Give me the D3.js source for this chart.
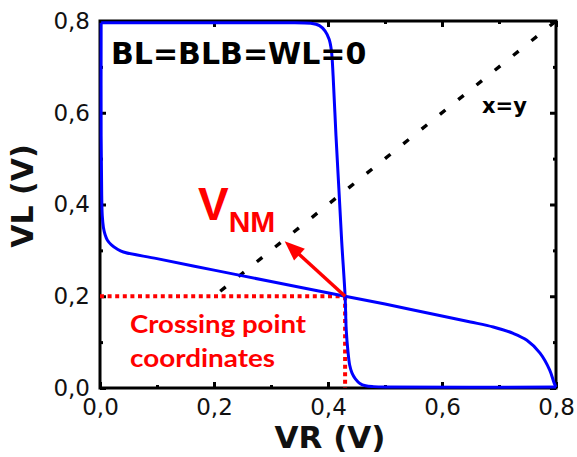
<!DOCTYPE html>
<html><head><meta charset="utf-8">
<script src="https://cdn.jsdelivr.net/npm/d3@7"></script>
<style>body{margin:0;background:#fff}svg{display:block}</style>
</head><body>
<svg id="chart" width="577" height="457"></svg>
<script>
// ---- data ----
const majorTicks = [0, 0.2, 0.4, 0.6, 0.8];
const minorTicks = [0.1, 0.3, 0.5, 0.7];
// curve 1: VL as a function of VR
const curve1VR = [0.002, 0.002, 0.003, 0.004, 0.006, 0.009, 0.013, 0.02, 0.03, 0.041, 0.1, 0.2, 0.3, 0.43, 0.5, 0.6, 0.65, 0.69, 0.725, 0.749, 0.772, 0.789, 0.797, 0.8];
const curve1VL = [0.796, 0.55, 0.42, 0.375, 0.35, 0.334, 0.322, 0.312, 0.303, 0.2965, 0.282, 0.257, 0.232, 0.2, 0.183, 0.157, 0.144, 0.133, 0.119, 0.104, 0.076, 0.039, 0.01, 0.002];
// curve 2: VR as a function of VL
const curve2VR = [0.002, 0.3, 0.37, 0.385, 0.395, 0.402, 0.406, 0.409, 0.414, 0.419, 0.424, 0.43, 0.432, 0.435, 0.438, 0.442, 0.448, 0.456, 0.466, 0.48, 0.5, 0.8];
const curve2VL = [0.796, 0.796, 0.795, 0.79, 0.778, 0.76, 0.735, 0.68, 0.55, 0.436, 0.32, 0.2, 0.126, 0.08, 0.05, 0.033, 0.02, 0.01, 0.005, 0.003, 0.002, 0.002];
const diagonal = [0.2, 0.8];
const crossing = {vr: 0.43, vl: 0.2};
const arrowTip = {vr: 0.324, vl: 0.32};

// ---- layout ----
const svg = d3.select("#chart");
const x = d3.scaleLinear().domain([0, 0.8]).range([100, 556]);
const y = d3.scaleLinear().domain([0, 0.8]).range([388, 21]);
const fmt = v => d3.format(".1f")(v).replace(".", ",");
const tickFont = "'DejaVu Sans', sans-serif";
const boldFont = "'DejaVu Sans', sans-serif";

// axes
function styleAxis(g) {
  g.select(".domain").remove();
  g.selectAll(".tick line").attr("stroke", "#000").attr("stroke-width", 3);
  g.selectAll("text").attr("font-family", tickFont).attr("font-size", 23).attr("fill", "#111");
}
svg.append("g").attr("transform", "translate(0,388)")
  .call(d3.axisBottom(x).tickValues(majorTicks).tickSize(-6).tickPadding(11).tickFormat(fmt)).call(styleAxis);
svg.append("g").attr("transform", "translate(0,388)")
  .call(d3.axisBottom(x).tickValues(minorTicks).tickSize(-3).tickFormat("")).call(styleAxis);
svg.append("g").attr("transform", "translate(100,0)")
  .call(d3.axisLeft(y).tickValues(majorTicks).tickSize(-6).tickPadding(10).tickFormat(fmt)).call(styleAxis);
svg.append("g").attr("transform", "translate(100,0)")
  .call(d3.axisLeft(y).tickValues(minorTicks).tickSize(-3).tickFormat("")).call(styleAxis);
svg.append("g").attr("transform", "translate(0,21)")
  .call(d3.axisTop(x).tickValues(majorTicks).tickSize(-6).tickFormat("")).call(styleAxis);
svg.append("g").attr("transform", "translate(0,21)")
  .call(d3.axisTop(x).tickValues(minorTicks).tickSize(-3).tickFormat("")).call(styleAxis);
svg.append("g").attr("transform", "translate(556,0)")
  .call(d3.axisRight(y).tickValues(majorTicks).tickSize(-6).tickFormat("")).call(styleAxis);
svg.append("g").attr("transform", "translate(556,0)")
  .call(d3.axisRight(y).tickValues(minorTicks).tickSize(-3).tickFormat("")).call(styleAxis);

// frame
svg.append("rect").attr("x", x(0)).attr("y", y(0.8))
  .attr("width", x(0.8) - x(0)).attr("height", y(0) - y(0.8))
  .attr("fill", "none").attr("stroke", "#000").attr("stroke-width", 3);

// diagonal x=y
svg.append("line")
  .attr("x1", x(diagonal[0])).attr("y1", y(diagonal[0]))
  .attr("x2", x(diagonal[1])).attr("y2", y(diagonal[1]))
  .attr("stroke", "#000").attr("stroke-width", 3.4).attr("stroke-dasharray", "7,16.5")
  .attr("stroke-dashoffset", -8);

// red dotted crossing lines
svg.append("path")
  .attr("d", `M${x(0)},${y(crossing.vl)}H${x(crossing.vr)}`)
  .attr("stroke", "#ff0000").attr("stroke-width", 4).attr("stroke-dasharray", "4,3.6").attr("fill", "none");
svg.append("path")
  .attr("d", `M${x(crossing.vr)},${y(crossing.vl)}V${y(0)}`)
  .attr("stroke", "#ff0000").attr("stroke-width", 4).attr("stroke-dasharray", "4,3.6").attr("fill", "none");

// curves
const curveLine = d3.line().x(d => x(d[0])).y(d => y(d[1])).curve(d3.curveCatmullRom.alpha(0.5));
svg.append("path").datum(curve1VR.map((v, i) => [v, curve1VL[i]]))
  .attr("d", curveLine)
  .attr("fill", "none").attr("stroke", "#0000ff").attr("stroke-width", 3);
svg.append("path").datum(curve2VR.map((v, i) => [v, curve2VL[i]]))
  .attr("d", curveLine)
  .attr("fill", "none").attr("stroke", "#0000ff").attr("stroke-width", 3);

// arrow
{
  const x0 = x(crossing.vr), y0 = y(crossing.vl), x1 = x(arrowTip.vr), y1 = y(arrowTip.vl);
  const dx = x1 - x0, dy = y1 - y0, len = Math.hypot(dx, dy);
  const ux = dx / len, uy = dy / len, head = 20, hw = 8;
  const bx = x1 - ux * head, by = y1 - uy * head;
  svg.append("line").attr("x1", x0).attr("y1", y0).attr("x2", bx + ux * 2).attr("y2", by + uy * 2)
    .attr("stroke", "#ff0000").attr("stroke-width", 3.5);
  svg.append("path")
    .attr("d", `M${x1},${y1}L${bx - uy * hw},${by + ux * hw}L${bx + uy * hw},${by - ux * hw}Z`)
    .attr("fill", "#ff0000");
}

// texts
svg.append("text").attr("x", 111).attr("y", 64).text("BL=BLB=WL=0")
  .attr("font-family", boldFont).attr("font-weight", "bold").attr("font-size", 30).attr("fill", "#000");
svg.append("text").attr("x", 482).attr("y", 113).text("x=y")
  .attr("font-family", boldFont).attr("font-weight", "bold").attr("font-size", 21).attr("fill", "#000");

const vnm = svg.append("text").attr("x", 198).attr("y", 220).attr("fill", "#ff0000")
  .attr("font-family", "'Liberation Sans', Arial, sans-serif").attr("font-weight", "bold");
vnm.append("tspan").attr("font-size", 46).text("V");
vnm.append("tspan").attr("font-size", 30).attr("dy", 12).text("NM");

svg.append("text").attr("x", 130).attr("y", 333).text("Crossing point")
  .attr("font-family", "Lato, 'Open Sans', sans-serif").attr("font-weight", "bold").attr("font-size", 25)
  .attr("fill", "#ff0000").attr("textLength", 176).attr("lengthAdjust", "spacingAndGlyphs");
svg.append("text").attr("x", 130).attr("y", 367).text("coordinates")
  .attr("font-family", "Lato, 'Open Sans', sans-serif").attr("font-weight", "bold").attr("font-size", 25)
  .attr("fill", "#ff0000").attr("textLength", 145).attr("lengthAdjust", "spacingAndGlyphs");

// axis titles
svg.append("text").attr("x", 330).attr("y", 448).attr("text-anchor", "middle").text("VR (V)")
  .attr("font-family", boldFont).attr("font-weight", "bold").attr("font-size", 31).attr("fill", "#111");
svg.append("text").attr("transform", "translate(33,196) rotate(-90)").attr("text-anchor", "middle").text("VL (V)")
  .attr("font-family", boldFont).attr("font-weight", "bold").attr("font-size", 30).attr("fill", "#111");
</script>
</body></html>
